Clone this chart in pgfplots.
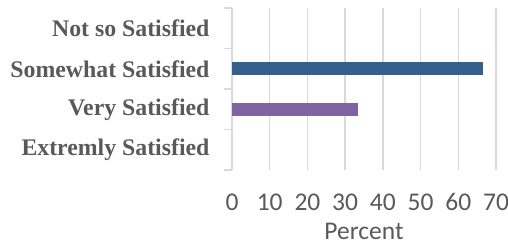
\documentclass[border=0pt]{standalone}
\usepackage{pgfplots}
\pgfplotsset{compat=1.18}
\usepackage{fontspec}
\setmainfont{Liberation Serif}
\newfontfamily\calibri{Carlito}
\definecolor{txtgray}{HTML}{595959}
\definecolor{gridgray}{HTML}{D9D9D9}
\definecolor{barblue}{HTML}{355F8D}
\definecolor{barpurple}{HTML}{8064A2}
\begin{document}
\begin{tikzpicture}
\begin{axis}[
  scale only axis,
  width=264pt, height=162pt,
  xbar, bar width=13pt, bar shift=0pt,
  xmin=0, xmax=70,
  ymin=-0.5, ymax=3.5,
  xtick={0,10,...,70},
  ytick={0,1,2,3},
  yticklabels={Extremly Satisfied,Very Satisfied,Somewhat Satisfied,Not so Satisfied},
  minor ytick={-0.5,0.5,1.5,2.5,3.5},
  axis y line*=left,
  axis x line*=bottom,
  x axis line style={draw=none},
  y axis line style={draw=gridgray, line width=1.3pt, -},
  xmajorgrids,
  major grid style={draw=gridgray, line width=1.3pt},
  xtick style={draw=none},
  ytick style={draw=gridgray, line width=1.3pt},
  tick align=outside,
  minor tick length=8pt,
  major tick length=0pt,
  /pgf/number format/assume math mode=true,
  xticklabel style={font=\calibri\fontsize{25.5}{28}\selectfont, text=txtgray, yshift=-20pt},
  yticklabel style={font=\bfseries\fontsize{23.8}{26}\selectfont, text=txtgray, xshift=-19pt},
  xlabel={Percent},
  xlabel style={font=\calibri\fontsize{25.5}{28}\selectfont, text=txtgray, inner sep=0pt, yshift=-9pt},
]
\addplot[fill=barblue, draw=none] coordinates {(66.67,2)};
\addplot[fill=barpurple, draw=none] coordinates {(33.33,1)};
\end{axis}
\pgfresetboundingbox
\path ([xshift=-232pt,yshift=-78pt]current axis.south west) rectangle ([xshift=12pt,yshift=8pt]current axis.north east);
\end{tikzpicture}
\end{document}
